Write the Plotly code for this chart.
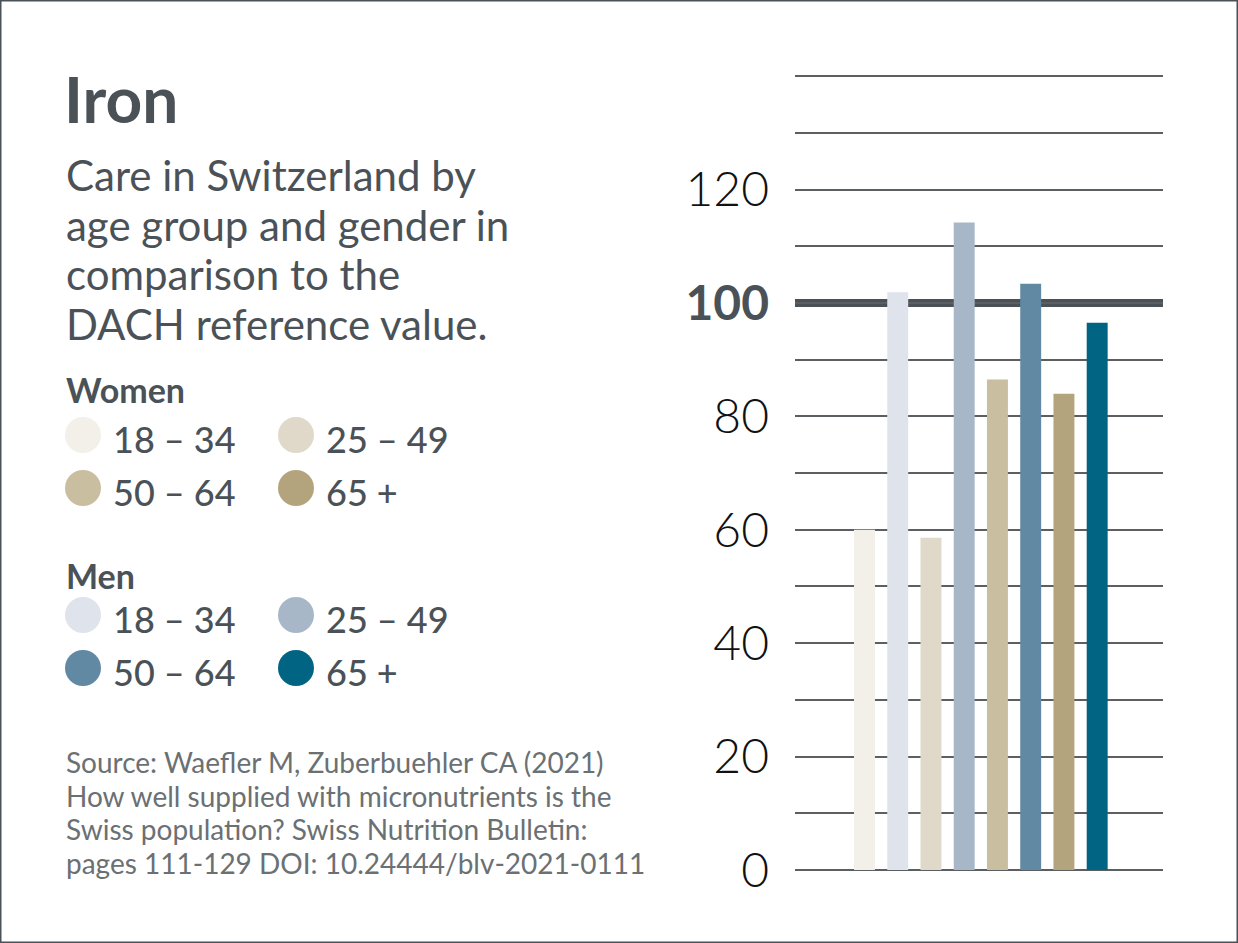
import plotly.graph_objects as go

W, H = 1238, 943

# bar order left to right: women / men interleaved per age group
groups = ["W 18-34", "M 18-34", "W 25-49", "M 25-49", "W 50-64", "M 50-64", "W 65+", "M 65+"]
values = [60.0, 101.9, 58.6, 114.2, 86.5, 103.4, 84.0, 96.5]
colors = ["#f3f0ea", "#dfe3ec", "#e0d9c9", "#a7b7c7", "#c9bea0", "#6289a3", "#b4a47e", "#006482"]

age_labels = ["18 – 34", "25 – 49", "50 – 64", "65 +"]
women_colors = ["#f3f0ea", "#e0d9c9", "#c9bea0", "#b4a47e"]
men_colors = ["#dfe3ec", "#a7b7c7", "#6289a3", "#006482"]

grid_vals = list(range(0, 150, 10))
tick_text = []
for v in grid_vals:
    if v == 100:
        tick_text.append("<span style='color:#4a5258;font-weight:bold'>100</span>")
    elif v % 20 == 0 and v <= 120:
        tick_text.append(str(v))
    else:
        tick_text.append("")

DARK = "#4a5258"
FONT = "Lato"


def px(x):
    return x / W


def py(y):
    return 1 - y / H


fig = go.Figure()
fig.add_trace(
    go.Bar(
        x=groups,
        y=values,
        marker=dict(color=colors, line=dict(width=0)),
        width=0.63,
        showlegend=False,
        hoverinfo="x+y",
    )
)

# reference value line (DACH = 100), above the grid but under the bars
fig.add_shape(
    type="line", xref="paper", yref="y", x0=px(795), x1=px(1163), y0=100, y1=100,
    line=dict(color=DARK, width=8), layer="between",
)

# frame
fig.add_shape(
    type="rect", xref="paper", yref="paper", x0=0, x1=1, y0=0, y1=1,
    line=dict(color=DARK, width=3), layer="above",
)

ann = []
ann.append(dict(text="<b>Iron</b>", x=px(62), y=py(98), font=dict(size=64, color=DARK)))
sub = ["Care in Switzerland by", "age group and gender in", "comparison to the", "DACH reference value."]
for i, line in enumerate(sub):
    ann.append(dict(text=line, x=px(64), y=py(175 + i * 49.7), font=dict(size=42, color=DARK)))

ann.append(dict(text="<b>Women</b>", x=px(64), y=py(389), font=dict(size=34, color=DARK)))
ann.append(dict(text="<b>Men</b>", x=px(64), y=py(575), font=dict(size=34, color=DARK)))

source = [
    "Source: Waefler M, Zuberbuehler CA (2021)",
    "How well supplied with micronutrients is the",
    "Swiss population? Swiss Nutrition Bulletin:",
    "pages 111-129 DOI: 10.24444/blv-2021-0111",
]
for i, line in enumerate(source):
    ann.append(dict(text=line, x=px(64), y=py(762 + i * 33.7), font=dict(size=28, color="#6b7073")))

# legend: circles + labels, two columns
for block_y, cols in [(435, women_colors), (615, men_colors)]:
    for i, (lab, c) in enumerate(zip(age_labels, cols)):
        cx = 83 + (i % 2) * 213
        cy = block_y + (i // 2) * 53
        r = 18
        fig.add_shape(
            type="circle", xref="paper", yref="paper",
            x0=px(cx - r), x1=px(cx + r), y0=py(cy + r), y1=py(cy - r),
            fillcolor=c, line=dict(width=0),
        )
        ann.append(dict(text=lab, x=px(cx + 28), y=py(cy + 4), font=dict(size=36, color=DARK, weight=500)))

for a in ann:
    a.update(xref="paper", yref="paper", xanchor="left", yanchor="middle", showarrow=False)
    a["font"]["family"] = FONT
fig.update_layout(annotations=ann)

fig.update_layout(
    width=W,
    height=H,
    autosize=False,
    margin=dict(l=0, r=0, t=0, b=0, pad=0),
    paper_bgcolor="white",
    plot_bgcolor="white",
    bargap=0.37,
    font=dict(family=FONT),
    xaxis=dict(
        domain=[px(795), px(1163)],
        range=[-2.09, 8.98],
        showticklabels=False,
        showgrid=False,
        zeroline=False,
        showline=False,
        ticks="",
        automargin=False,
        fixedrange=True,
    ),
    yaxis=dict(
        domain=[1 - 875.67 / H, 1 - 70.5 / H],
        range=[-1, 141],
        tickmode="array",
        tickvals=grid_vals,
        ticktext=tick_text,
        showgrid=True,
        gridcolor="#5c5f61",
        gridwidth=1.5,
        zeroline=False,
        showline=False,
        ticks="",
        ticklabelstandoff=25,
        tickfont=dict(family=FONT, size=48, color="#111111", weight=300),
        automargin=False,
        fixedrange=True,
    ),
)

fig.write_html(
    "out.html",
    config={"displayModeBar": False, "responsive": False},
    post_script="document.body.style.margin='0';document.body.style.overflow='hidden';",
)
